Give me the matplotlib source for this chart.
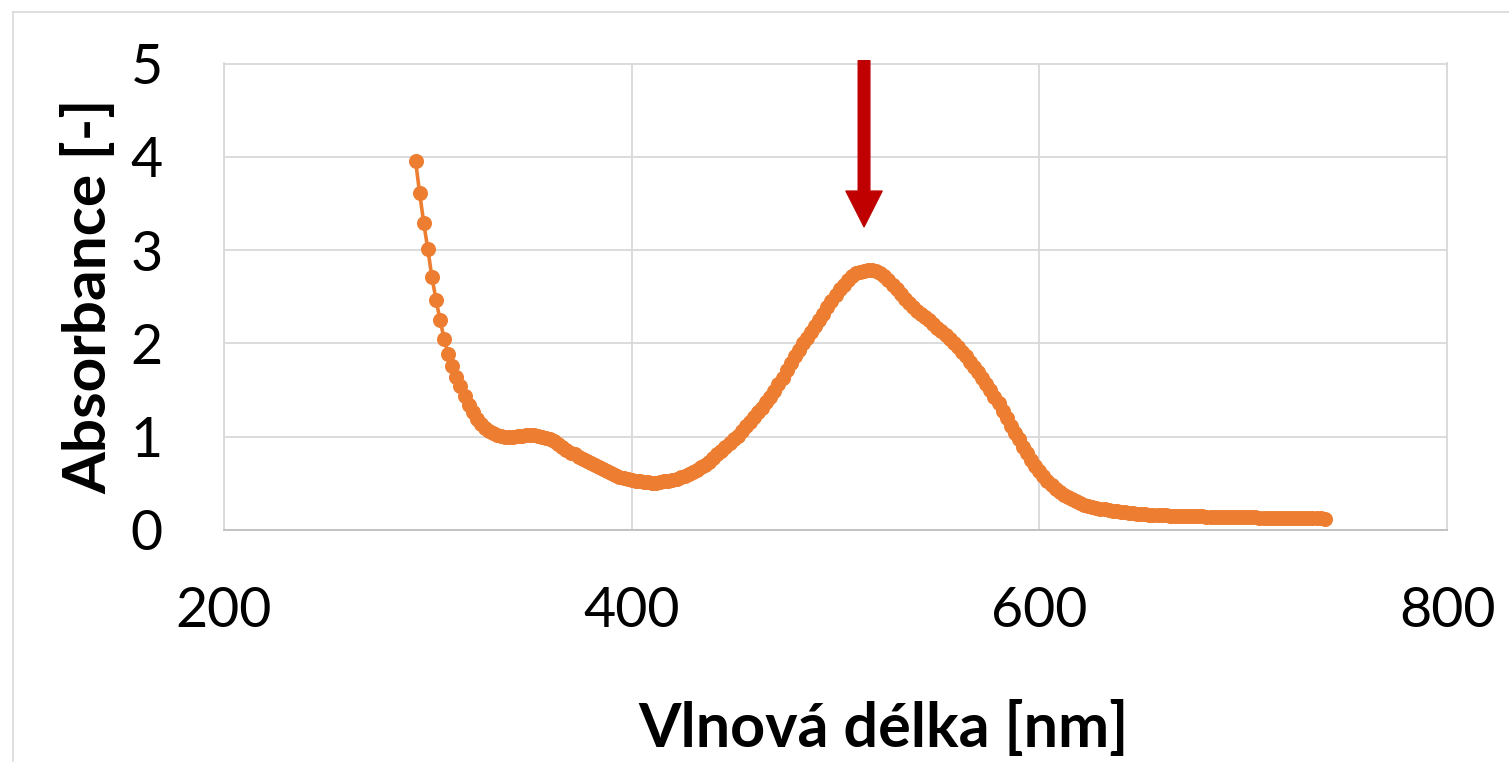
import numpy as np
import matplotlib
matplotlib.use("Agg")
import matplotlib.pyplot as plt
from matplotlib.lines import Line2D

# spectrum, 2 nm step
wavelength = list(range(294, 742, 2))
absorbance = [
    3.95, 3.61, 3.29, 3.01, 2.71, 2.47, 2.25, 2.05, 1.89, 1.76,
    1.64, 1.54, 1.44, 1.34, 1.26, 1.19, 1.14, 1.09, 1.06, 1.04,
    1.02, 1.01, 1.00, 1.00, 1.00, 1.01, 1.01, 1.02, 1.02, 1.02,
    1.01, 1.00, 0.99, 0.97, 0.95, 0.92, 0.89, 0.86, 0.83, 0.81,
    0.78, 0.76, 0.74, 0.72, 0.70, 0.67, 0.65, 0.63, 0.61, 0.59,
    0.57, 0.56, 0.55, 0.54, 0.53, 0.52, 0.51, 0.51, 0.50, 0.50,
    0.51, 0.52, 0.53, 0.54, 0.55, 0.57, 0.58, 0.60, 0.62, 0.64,
    0.67, 0.70, 0.73, 0.77, 0.81, 0.85, 0.89, 0.93, 0.97, 1.01,
    1.06, 1.11, 1.16, 1.21, 1.26, 1.31, 1.37, 1.43, 1.49, 1.56,
    1.63, 1.71, 1.79, 1.86, 1.93, 2.00, 2.06, 2.12, 2.19, 2.25,
    2.32, 2.39, 2.45, 2.52, 2.58, 2.63, 2.68, 2.72, 2.75, 2.77,
    2.78, 2.79, 2.79, 2.78, 2.75, 2.72, 2.68, 2.63, 2.58, 2.53,
    2.48, 2.43, 2.39, 2.35, 2.32, 2.28, 2.25, 2.21, 2.17, 2.13,
    2.09, 2.05, 2.00, 1.96, 1.91, 1.86, 1.80, 1.75, 1.69, 1.63,
    1.57, 1.50, 1.43, 1.36, 1.28, 1.20, 1.12, 1.04, 0.97, 0.89,
    0.82, 0.75, 0.69, 0.63, 0.58, 0.53, 0.48, 0.44, 0.41, 0.38,
    0.35, 0.33, 0.31, 0.29, 0.27, 0.26, 0.25, 0.24, 0.23, 0.22,
    0.21, 0.20, 0.20, 0.19, 0.19, 0.18, 0.18, 0.17, 0.17, 0.17,
    0.16, 0.16, 0.16, 0.16, 0.16, 0.15, 0.15, 0.15, 0.15, 0.15,
    0.15, 0.15, 0.15, 0.15, 0.14, 0.14, 0.14, 0.14, 0.14, 0.14,
    0.14, 0.14, 0.14, 0.14, 0.14, 0.14, 0.14, 0.13, 0.13, 0.13,
    0.13, 0.13, 0.13, 0.13, 0.13, 0.13, 0.13, 0.13, 0.13, 0.13,
    0.13, 0.13, 0.13, 0.12,
]
x_ticks = [200, 400, 600, 800]
y_ticks = [0, 1, 2, 3, 4, 5]
arrow_nm = 514          # marked band
arrow_from, arrow_to = 5.03, 3.25

orange = "#ED7D31"
red = "#C00000"
grid = "#D9D9D9"

plt.rcParams['font.family'] = ['Lato', 'DejaVu Sans']

W, H = 1509, 762
fig = plt.figure(figsize=(W / 100, H / 100), dpi=100)
ax = fig.add_axes([224 / W, (H - 530) / H, (1447 - 224) / W, (530 - 63.5) / H])

ax.plot(wavelength, absorbance, color=orange, lw=2.6, marker='o', ms=9.8,
        mec=orange, mfc=orange, zorder=3)

ax.set_xlim(200, 800)
ax.set_ylim(0, 5)
ax.set_xticks(x_ticks)
ax.set_yticks(y_ticks)
ax.grid(True, color=grid, lw=1.3)
ax.set_axisbelow(True)
for s in ax.spines.values():
    s.set_color(grid)
    s.set_linewidth(1.3)
ax.spines['bottom'].set_color('#BFBFBF')
ax.tick_params(length=0, labelsize=40)
ax.tick_params(axis='y', pad=44)
ax.tick_params(axis='x', pad=40)

ax.set_xlabel('Vlnová délka [nm]', fontsize=44, fontweight='bold', labelpad=46)
ax.xaxis.label.set_x(0.539)
ax.set_ylabel('Absorbance [-]', fontsize=43.5, fontweight='bold', labelpad=10)

ax.annotate('', xy=(arrow_nm, arrow_to), xytext=(arrow_nm, arrow_from),
            arrowprops=dict(arrowstyle='simple,head_width=26,head_length=25.7,tail_width=8.4',
                            mutation_scale=1, color=red, shrinkA=0, shrinkB=0),
            annotation_clip=False)

# chart frame (left and top edges visible)
fig.add_artist(Line2D([13 / W, 13 / W], [0, (H - 12) / H], color=grid, lw=1.2,
                      transform=fig.transFigure))
fig.add_artist(Line2D([13 / W, 1], [(H - 12) / H, (H - 12) / H], color=grid, lw=1.2,
                      transform=fig.transFigure))

fig.savefig('out.png', dpi=100)
